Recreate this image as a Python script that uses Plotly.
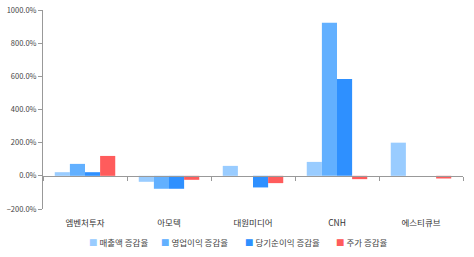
import plotly.graph_objects as go

categories = ["엠벤처투자", "아모텍", "대원미디어", "CNH", "에스티큐브"]
series_names = ["매출액 증감율", "영업이익 증감율", "당기순이익 증감율", "주가 증감율"]
sales = [22, -36, 60, 84, 200]
op_profit = [72, -78, 0, 923, 0]
net_profit = [22, -78, -70, 584, 0]
stock = [120, -24, -44, -20, -16]
colors = ["#99CCFF", "#62B0FF", "#2E90FF", "#FF5C5C"]

fig = go.Figure()
for name, vals, c in zip(series_names, [sales, op_profit, net_profit, stock], colors):
    fig.add_trace(go.Bar(x=categories, y=vals, name=name, marker_color=c,
                         marker_line_width=0))
# helper trace to carry the zero-line category axis with boundary ticks
fig.add_trace(go.Scatter(x=categories, y=[None]*5, xaxis="x2", mode="markers",
                         showlegend=False, hoverinfo="skip"))

font = "Noto Sans CJK KR, Dotum, sans-serif"

# legend drawn as text annotations (colored square + label)
legend_x = [0.105, 0.277, 0.476, 0.692]
annotations = []
for name, c, lx in zip(series_names, colors, legend_x):
    annotations.append(dict(
        xref="paper", yref="paper", x=lx, y=-0.165, xanchor="left", yanchor="middle",
        showarrow=False, text=f"<span style='color:{c}'>■</span> {name}",
        font=dict(size=8.5, color="#444", family=font)))

fig.update_layout(
    width=474, height=257,
    margin=dict(l=43, r=11, t=10, b=48, autoexpand=False),
    paper_bgcolor="white", plot_bgcolor="white",
    barmode="group", bargap=0.28, bargroupgap=0,
    font=dict(family=font, size=9, color="#444"),
    xaxis=dict(type="category", showline=False, ticks="", showgrid=False,
               zeroline=False, tickfont=dict(size=8.5, color="#333"),
               range=[-0.5, 4.5], automargin=False, ticklabelstandoff=7),
    xaxis2=dict(type="category", overlaying="x", anchor="free", position=1/6,
                showline=True, linecolor="#999", linewidth=1,
                ticks="outside", tickson="boundaries", ticklen=4, tickcolor="#999",
                showticklabels=False, showgrid=False, range=[-0.5, 4.5]),
    yaxis=dict(range=[-200, 1000], dtick=200, tickformat=".1f", ticksuffix="%",
               showline=True, linecolor="#999", linewidth=1, ticks="outside",
               ticklen=4, tickcolor="#999", showgrid=False, zeroline=False,
               tickfont=dict(size=7.5, color="#444"), automargin=False),
    annotations=annotations,
    showlegend=False,
)
fig.write_html("out.html")
